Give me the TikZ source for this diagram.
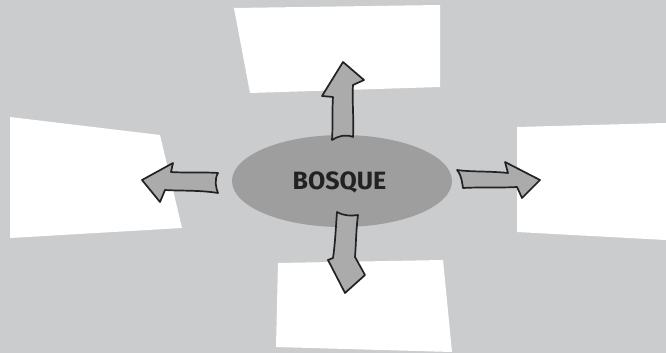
\documentclass[tikz,border=0pt]{standalone}
\usepackage{fontspec}
\setmainfont{Fira Sans}
\definecolor{bg}{HTML}{CBCCCD}
\definecolor{ell}{HTML}{9E9E9E}
\definecolor{arr}{HTML}{ABABAB}
\definecolor{edge}{HTML}{222222}
\tikzset{
  card/.style={fill=white, draw=none},
  blockarrow/.style={fill=arr, draw=edge, line width=1.7pt, line join=round},
  hub/.style={ellipse, fill=ell, draw=none, minimum width=220pt, minimum height=92pt, inner sep=0pt},
  hubtext/.style={font=\fontsize{25}{29}\selectfont\bfseries, text=edge, inner sep=0pt}
}
\usetikzlibrary{shapes.geometric}
\begin{document}
\begin{tikzpicture}[x=1pt,y=-1pt]
\fill[bg] (0,0) rectangle (666,353);
\useasboundingbox (0,0) rectangle (666,353);
% cards
\fill[card] (234,8) -- (440,5) -- (440,87) -- (250,93) -- cycle;
\fill[card] (10,117) -- (160,135) -- (182,228) -- (10,238) -- cycle;
\fill[card] (517,127) -- (666,123) -- (666,240) -- (517,232) -- cycle;
\fill[card] (278,263) -- (443,260) -- (452,352) -- (276,347) -- cycle;
% hub
\node[hub] (hub) at (342,181) {};
\node[hubtext, anchor=base] (label) at (339.5,189) {BOSQUE};
% up arrow
\draw[blockarrow] (332,140) .. controls (338,136) and (346,134) .. (353,137)
  .. controls (354,120) and (352,100) .. (353,85) -- (364,80) -- (343,62) -- (322,96) -- (333,97)
  .. controls (332,110) and (333,125) .. cycle;
% down arrow
\draw[blockarrow] (337,212) .. controls (344,216) and (351,216) .. (358,215)
  .. controls (356,230) and (356,245) .. (355,257) -- (365,275) -- (345,293) -- (328,260) -- (333,258)
  .. controls (335,245) and (336,225) .. cycle;
% left arrow
\draw[blockarrow] (218,173) .. controls (214,180) and (216,188) .. (218,193)
  .. controls (200,190) and (180,191) .. (165,190) -- (160,202) -- (142,180) -- (173,163) -- (171,172)
  .. controls (185,173) and (205,172) .. cycle;
% right arrow
\draw[blockarrow] (457,170) .. controls (462,176) and (462,183) .. (463,188)
  .. controls (480,187) and (500,188) .. (517,187) -- (522,198) -- (540,180) -- (505,162) -- (508,173)
  .. controls (490,171) and (470,172) .. cycle;
\end{tikzpicture}
\end{document}
